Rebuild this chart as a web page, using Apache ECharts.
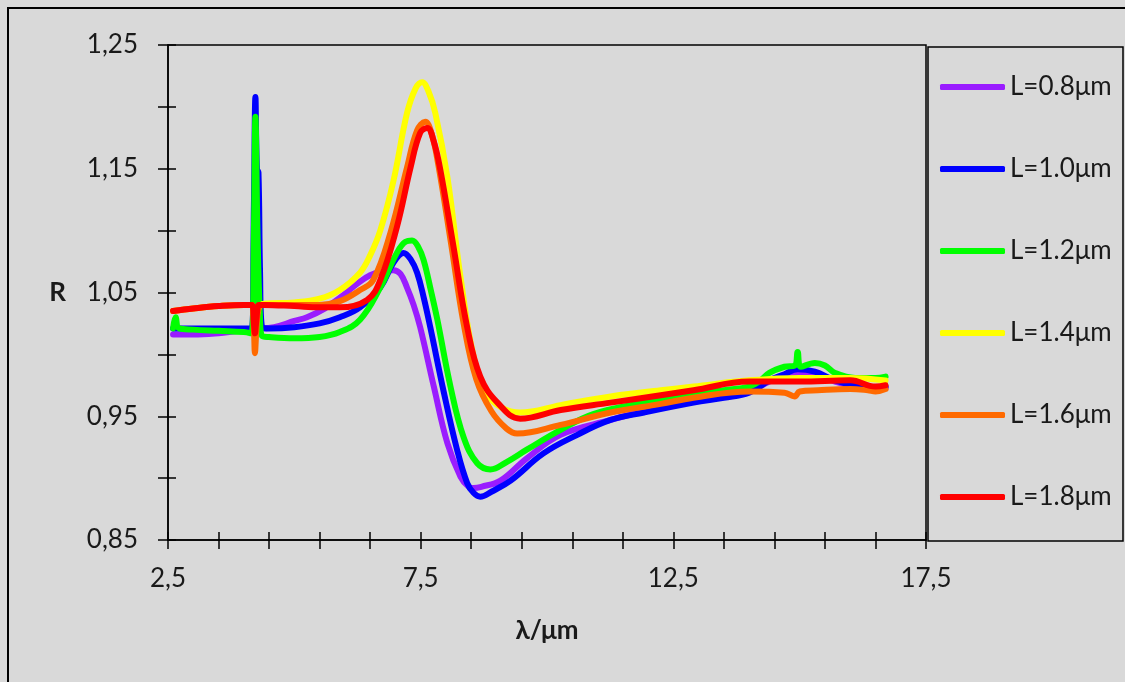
<!DOCTYPE html>
<html>
<head>
<meta charset="utf-8">
<script src="https://cdn.jsdelivr.net/npm/echarts@6/dist/echarts.min.js"></script>
<style>
html, body { margin: 0; padding: 0; background: #d9d9d9; }
#chart { width: 1125px; height: 682px; }
</style>
</head>
<body>
<div id="chart"></div>
<script>
// legend names and colours
var names = ['L=0.8μm', 'L=1.0μm', 'L=1.2μm', 'L=1.4μm', 'L=1.6μm', 'L=1.8μm'];
var colors = ['#9a1cff', '#0000ff', '#00ff00', '#ffff00', '#ff6a00', '#ff0000'];

// axis ticks
var xTickLabels = [2.5, 7.5, 12.5, 17.5];
var xTicks = [2.5, 3.5, 4.5, 5.5, 6.5, 7.5, 8.5, 9.5, 10.5, 11.5, 12.5, 13.5, 14.5, 15.5, 16.5, 17.5];
var yTickLabels = [0.85, 0.95, 1.05, 1.15, 1.25];
var yTicks = [0.85, 0.90, 0.95, 1.00, 1.05, 1.10, 1.15, 1.20, 1.25];

// [lambda, R]
var l08 = [[2.6,1.016],[3.0,1.016],[3.5,1.017],[4.0,1.019],[4.16,1.019],[4.2,1.09],[4.23,1.15],[4.27,1.08],[4.32,1.03],[4.36,1.021],[4.6,1.022],[5.0,1.027],[5.25,1.030],[5.6,1.037],[5.91,1.046],[6.24,1.057],[6.5,1.064],[6.75,1.067],[6.96,1.068],[7.1,1.065],[7.23,1.054],[7.36,1.040],[7.49,1.022],[7.76,0.974],[8.03,0.928],[8.29,0.901],[8.45,0.893],[8.55,0.892],[8.7,0.893],[9.08,0.898],[9.6,0.916],[10.27,0.935],[11.26,0.947],[11.92,0.954],[12.9,0.962],[13.5,0.966],[14.0,0.970],[14.4,0.978],[14.7,0.983],[14.96,0.985],[15.3,0.984],[15.7,0.978],[16.1,0.974],[16.5,0.972],[16.7,0.973]];
var l10 = [[2.6,1.021],[3.0,1.021],[3.5,1.021],[4.0,1.021],[4.16,1.021],[4.2,1.12],[4.23,1.208],[4.26,1.15],[4.29,1.147],[4.32,1.07],[4.36,1.022],[4.5,1.021],[5.0,1.022],[5.5,1.025],[5.9,1.030],[6.3,1.038],[6.7,1.054],[6.96,1.074],[7.16,1.082],[7.3,1.077],[7.43,1.066],[7.56,1.046],[7.69,1.022],[7.96,0.969],[8.22,0.923],[8.42,0.896],[8.55,0.888],[8.68,0.885],[8.9,0.889],[9.28,0.898],[9.93,0.920],[10.6,0.935],[11.26,0.947],[11.92,0.953],[12.9,0.961],[13.5,0.965],[14.0,0.969],[14.4,0.979],[14.7,0.984],[14.96,0.988],[15.3,0.986],[15.7,0.979],[16.1,0.975],[16.5,0.973],[16.7,0.974]];
var l12 = [[2.6,1.021],[2.65,1.030],[2.72,1.021],[3.0,1.020],[3.5,1.019],[4.0,1.018],[4.15,1.017],[4.2,1.10],[4.23,1.192],[4.27,1.10],[4.32,1.03],[4.36,1.015],[4.5,1.014],[5.0,1.013],[5.5,1.014],[5.9,1.018],[6.3,1.028],[6.7,1.054],[7.03,1.082],[7.2,1.091],[7.33,1.092],[7.45,1.087],[7.56,1.076],[7.7,1.052],[7.83,1.028],[8.09,0.974],[8.35,0.933],[8.62,0.912],[8.88,0.907],[9.2,0.913],[9.6,0.923],[10.27,0.939],[10.93,0.952],[11.92,0.961],[12.9,0.968],[13.5,0.971],[14.0,0.974],[14.2,0.978],[14.4,0.985],[14.7,0.990],[14.9,0.991],[14.96,1.002],[15.02,0.990],[15.3,0.993],[15.5,0.991],[15.7,0.985],[16.1,0.981],[16.5,0.981],[16.7,0.982]];
var l14 = [[2.6,1.035],[3.0,1.037],[3.5,1.039],[4.0,1.040],[4.15,1.040],[4.22,1.025],[4.3,1.038],[4.4,1.041],[5.0,1.042],[5.5,1.045],[5.9,1.052],[6.3,1.066],[6.5,1.080],[6.7,1.100],[6.96,1.140],[7.23,1.195],[7.4,1.215],[7.53,1.220],[7.65,1.213],[7.79,1.195],[8.03,1.143],[8.29,1.062],[8.55,0.998],[8.82,0.968],[9.1,0.957],[9.47,0.953],[10.27,0.959],[11.26,0.966],[12.25,0.971],[12.9,0.974],[14.0,0.979],[15.0,0.981],[16.0,0.981],[16.7,0.979]];
var l16 = [[2.6,1.035],[3.0,1.037],[3.5,1.039],[4.0,1.040],[4.16,1.040],[4.2,1.02],[4.22,1.001],[4.25,1.02],[4.3,1.038],[4.4,1.040],[5.0,1.040],[5.5,1.040],[5.9,1.043],[6.3,1.052],[6.56,1.060],[6.9,1.098],[7.23,1.151],[7.43,1.181],[7.59,1.188],[7.72,1.178],[7.85,1.153],[8.1,1.090],[8.35,1.025],[8.6,0.980],[8.9,0.954],[9.2,0.940],[9.41,0.936],[10.27,0.943],[11.26,0.953],[12.25,0.960],[12.9,0.965],[14.0,0.970],[14.7,0.969],[14.9,0.966],[15.0,0.970],[15.36,0.971],[16.0,0.972],[16.35,0.971],[16.5,0.970],[16.7,0.972]];
var l18 = [[2.6,1.035],[3.0,1.037],[3.5,1.039],[4.0,1.040],[4.16,1.040],[4.2,1.025],[4.22,1.017],[4.25,1.028],[4.3,1.040],[4.4,1.040],[5.0,1.039],[5.5,1.038],[5.91,1.038],[6.44,1.044],[6.7,1.060],[7.03,1.103],[7.3,1.151],[7.49,1.179],[7.63,1.183],[7.76,1.172],[7.89,1.149],[8.15,1.087],[8.42,1.022],[8.68,0.982],[9.02,0.961],[9.47,0.948],[10.27,0.955],[11.26,0.961],[12.25,0.967],[12.9,0.971],[14.0,0.978],[15.0,0.978],[16.0,0.979],[16.5,0.974],[16.7,0.975]];

var allData = [l08, l10, l12, l14, l16, l18];

var font = 'Lato, "Open Sans", sans-serif';
var textColor = '#1a1a1a';

var series = [];
for (var i = 0; i < names.length; i++) {
	series.push({
		name: names[i],
		type: 'line',
		data: allData[i],
		showSymbol: false,
		symbol: 'none',
		smooth: 0.4,
		lineStyle: { color: colors[i], width: 6, cap: 'round', join: 'round' },
		itemStyle: { color: colors[i] },
		xAxisIndex: 0,
		yAxisIndex: 0
	});
}

var chart = echarts.init(document.getElementById('chart'));
var option = {
	backgroundColor: '#d9d9d9',
	animation: false,
	grid: {
		left: 168, top: 45, right: 199, bottom: 142,
		show: true, borderColor: '#000', borderWidth: 1.5,
		backgroundColor: 'transparent'
	},
	legend: {
		orient: 'vertical',
		left: 935,
		top: 67,
		icon: 'roundRect',
		itemWidth: 65,
		itemHeight: 6,
		itemGap: 52,
		data: names,
		textStyle: { fontFamily: font, fontSize: 26, color: textColor, lineHeight: 30 }
	},
	xAxis: [{
		type: 'value',
		min: 2.5, max: 17.5,
		name: 'λ/μm',
		nameLocation: 'middle',
		nameGap: 78,
		nameTextStyle: { fontFamily: font, fontSize: 26, fontWeight: 'bold', color: textColor },
		axisLine: { show: true, lineStyle: { color: '#000', width: 1.5 } },
		axisTick: { show: true, customValues: xTicks, inside: false, length: 9, lineStyle: { color: '#000', width: 1.5 } },
		axisLabel: {
			customValues: xTickLabels, margin: 26,
			fontFamily: font, fontSize: 26, color: textColor,
			formatter: function(v) { return v.toFixed(1).replace('.', ','); }
		},
		splitLine: { show: false }
	}, {
		type: 'value',
		min: 2.5, max: 17.5,
		position: 'bottom',
		axisLine: { show: false },
		axisTick: { show: true, customValues: xTicks, inside: true, length: 8, lineStyle: { color: '#000', width: 1.5 } },
		axisLabel: { show: false },
		splitLine: { show: false }
	}],
	yAxis: [{
		type: 'value',
		min: 0.85, max: 1.25,
		name: 'R',
		nameLocation: 'middle',
		nameRotate: 0,
		nameGap: 102,
		nameTextStyle: { fontFamily: font, fontSize: 26, fontWeight: 'bold', color: textColor },
		axisLine: { show: true, lineStyle: { color: '#000', width: 1.5 } },
		axisTick: { show: true, customValues: yTicks, inside: false, length: 10, lineStyle: { color: '#000', width: 1.5 } },
		axisLabel: {
			customValues: yTickLabels, margin: 30,
			fontFamily: font, fontSize: 26, color: textColor,
			formatter: function(v) { return v.toFixed(2).replace('.', ','); }
		},
		splitLine: { show: false }
	}, {
		type: 'value',
		min: 0.85, max: 1.25,
		position: 'left',
		axisLine: { show: false },
		axisTick: { show: true, customValues: yTicks, inside: true, length: 8, lineStyle: { color: '#000', width: 1.5 } },
		axisLabel: { show: false },
		splitLine: { show: false }
	}],
	graphic: [{
		type: 'rect',
		shape: { x: 8, y: 8, width: 1200, height: 800 },
		style: { fill: null, stroke: '#000', lineWidth: 2 },
		silent: true
	}, {
		type: 'rect',
		shape: { x: 928, y: 47, width: 195, height: 494 },
		style: { fill: null, stroke: '#000', lineWidth: 1.5 },
		silent: true
	}],
	series: series
};
chart.setOption(option);
</script>
</body>
</html>
